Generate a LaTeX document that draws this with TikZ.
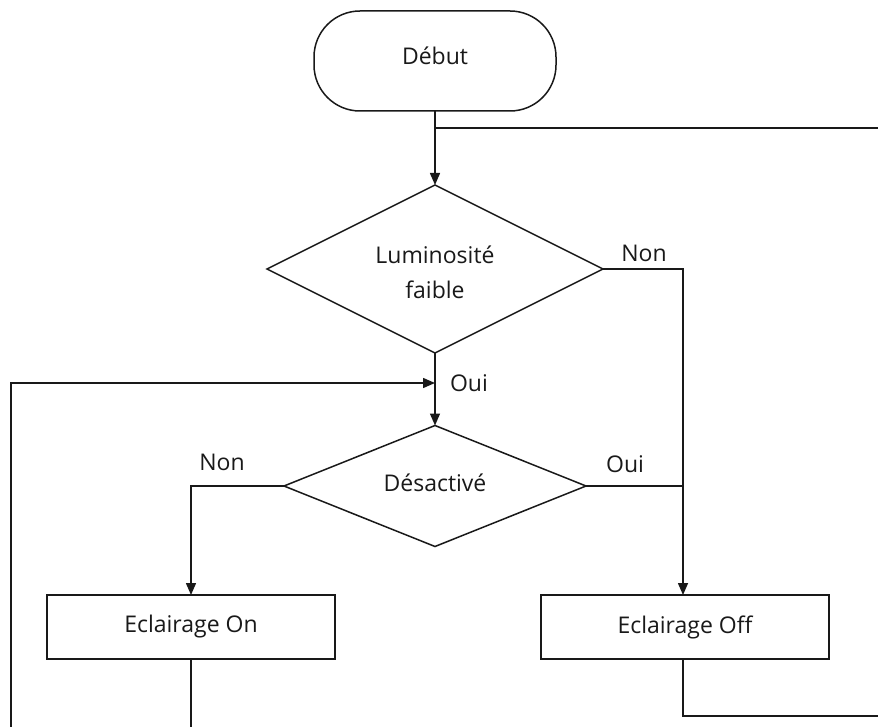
\documentclass[tikz,border=0pt]{standalone}
\usepackage{fontspec}
\setmainfont{Open Sans}
\usetikzlibrary{shapes.geometric,arrows.meta}
\begin{document}
\begin{tikzpicture}[x=1pt,y=-1pt,
  every node/.style={font=\fontsize{23}{35}\selectfont, text=black!90},
  line/.style={draw=black!90, line width=1.5pt},
  arr/.style={line, -{Triangle[length=12pt,width=10pt]}},
  startbox/.style={draw=black!90, line width=1.5pt, rounded corners=46pt, minimum width=242pt, minimum height=100pt, inner sep=0pt, outer sep=0pt},
  decision/.style={draw=black!90, line width=1.5pt, diamond, inner sep=0pt, outer sep=0pt},
  actbox/.style={draw=black!90, line width=1.5pt, rectangle, minimum width=288pt, minimum height=64pt, inner sep=0pt, outer sep=0pt},
  lbl/.style={inner sep=0pt}
]
\useasboundingbox (0,0) rectangle (878,727);
\node[startbox] (debut) at (435,61) {};
\node[lbl] (debuttxt) at (435,56) {Début};
\node[decision, minimum width=336pt, minimum height=168pt] (lum) at (435,269) {};
\node[lbl, align=center] (lumtxt) at (435,272) {Luminosité\\faible};
\node[decision, minimum width=302pt, minimum height=121pt] (des) at (435,486) {};
\node[lbl] (destxt) at (435,483) {Désactivé};
\node[actbox] (on) at (191,627) {Eclairage On};
\node[actbox] (off) at (685,627) {Eclairage Off};

\coordinate (j1) at (435,128);
\coordinate (r1) at (878,128);
\coordinate (lumR) at (683,269);
\coordinate (desR) at (683,486);
\coordinate (desL) at (191,486);
\coordinate (jOui) at (435,383);
\coordinate (loopB) at (11,727);
\coordinate (loopT) at (11,383);
\coordinate (onB) at (191,727);
\coordinate (offC) at (683,716);
\coordinate (offR) at (878,716);

\draw[arr] (debut.south) -- (lum.north);
\draw[line] (j1) -- (r1);
\draw[arr] (lum.east) -- (lumR) -- (lumR |- off.north);
\draw[arr] (lum.south) -- (des.north);
\draw[arr] (loopB) -- (loopT) -- (jOui);
\draw[arr] (des.west) -- (desL) -- (on.north);
\draw[line] (des.east) -- (desR);
\draw[line] (on.south) -- (onB);
\draw[line] (off.south -| offC) -- (offC) -- (offR);

\node[lbl] (nonA) at (644,253) {Non};
\node[lbl] (ouiA) at (469,383) {Oui};
\node[lbl] (nonB) at (222,462) {Non};
\node[lbl] (ouiB) at (625,464) {Oui};
\end{tikzpicture}
\end{document}
